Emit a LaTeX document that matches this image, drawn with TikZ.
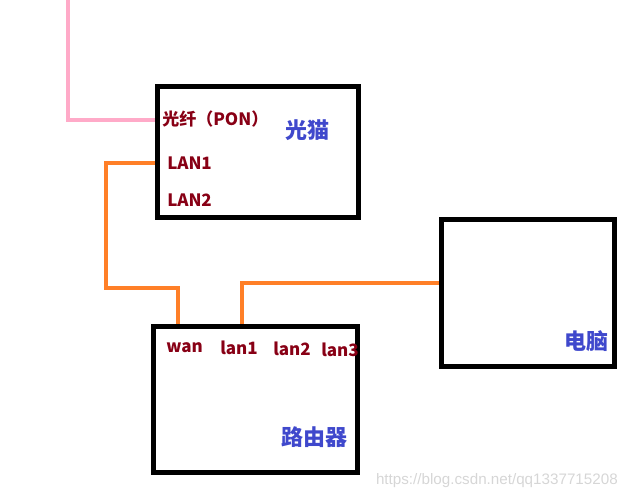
\documentclass[tikz,border=0pt]{standalone}
\usepackage{fontspec}
\setmainfont{Noto Sans CJK SC}
\newfontfamily\markfont{Liberation Sans}
\definecolor{portred}{RGB}{136,0,21}
\definecolor{titleblue}{RGB}{63,72,204}
\definecolor{cableorange}{RGB}{255,127,39}
\definecolor{fiberpink}{RGB}{255,170,200}
\tikzset{
  box/.style={draw=black,line width=3.75pt,inner sep=0pt},
  cable/.style={draw=cableorange,line width=3pt},
  fiber/.style={draw=fiberpink,line width=3pt},
  port/.style={anchor=west,inner sep=0pt,text=portred,font=\fontsize{12.75}{14}\selectfont\bfseries},
  title/.style={inner sep=0pt,text=titleblue,font=\fontsize{16.5}{18}\selectfont\bfseries}
}
\begin{document}
\begin{tikzpicture}[x=0.75pt,y=-0.75pt]
\useasboundingbox (0,0) rectangle (639,499);
% ports on the box edges
\coordinate (fibertop) at (68,0);
\coordinate (modemPon) at (157,120);
\coordinate (modemLan) at (157,163);
\coordinate (routerWan) at (177.5,326.5);
\coordinate (routerLan) at (241.5,326.5);
\coordinate (pcPort) at (441.5,283);

% cables
\draw[fiber] (modemPon) -| (fibertop);
\draw[cable] (modemLan) -| (106,288) -| (routerWan);
\draw[cable] (routerLan) |- (pcPort);

% boxes
\node[box,minimum width=151.1pt,minimum height=98.25pt] (modem) at (257.75,152) {};
\node[box,minimum width=153pt,minimum height=109.5pt] (router) at (255.5,399.5) {};
\node[box,minimum width=129.75pt,minimum height=110.6pt] (pc) at (528,292.75) {};

% labels
\node[port] (pon) at (162,119) {光纤（PON）};
\node[port] (lan1) at (167,163) {LAN1};
\node[port] (lan2) at (167,200) {LAN2};
\node[title] (modemname) at (307,130) {光猫};
\node[port] (wan) at (166,348) {wan};
\node[port] (rlan1) at (220,348) {lan1};
\node[port] (rlan2) at (273,349) {lan2};
\node[port] (rlan3) at (321,350) {lan3};
\node[title] (routername) at (314,437) {路由器};
\node[title] (pcname) at (586,341) {电脑};
\node[anchor=east,inner sep=0pt,text=black!16,font=\markfont\fontsize{11.4}{13}\selectfont] (mark) at (618,481) {https://blog.csdn.net/qq1337715208};
\end{tikzpicture}
\end{document}
